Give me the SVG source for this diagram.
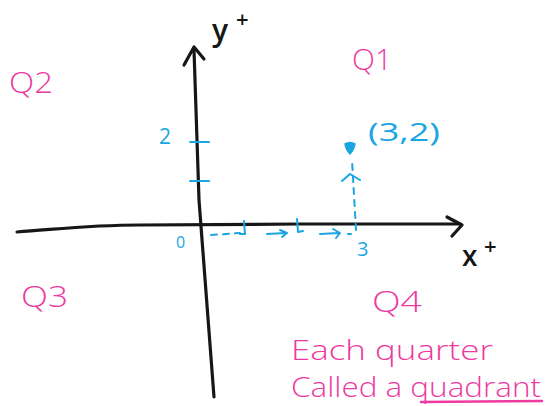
<svg xmlns="http://www.w3.org/2000/svg" width="548" height="406" viewBox="0 0 548 406">
<style>
.ax{fill:none;stroke:#161616;stroke-width:3.2;stroke-linecap:round;stroke-linejoin:round}
.cy{fill:none;stroke:#1aa6e2;stroke-width:2;stroke-linecap:round;stroke-linejoin:round}
.cyd{fill:none;stroke:#1aa6e2;stroke-width:2;stroke-linecap:round;stroke-dasharray:6 6}
.mt{font-family:"Open Sans","Liberation Sans",sans-serif;fill:#ec3a9f;font-weight:300}
.ct{font-family:"Open Sans","Liberation Sans",sans-serif;fill:#1aa6e2;font-weight:400}
.bt{font-family:"Open Sans","Liberation Sans",sans-serif;fill:#161616;font-weight:600}
</style>
<rect width="548" height="406" fill="#ffffff"/>
<g id="connectors">
<path class="ax" d="M17 232 C60 229 90 225 140 225 L300 224 L460 224"/>
<path class="ax" d="M447 217 L462 225 L452 236"/>
<path class="ax" d="M194 50 L199 200 L214 397"/>
<path class="ax" d="M184 65 L194 47 L204 59"/>
</g>
<g id="y-axis-label">
<text class="bt" x="212" y="41" font-size="30">y</text>
<text class="bt" x="236" y="27" font-size="22">+</text>
</g>
<g id="x-axis-label">
<text class="bt" x="462" y="266" font-size="28">x</text>
<text class="bt" x="484" y="254" font-size="22">+</text>
</g>
<g id="ticks">
<path class="cy" d="M190 142 L209 142"/>
<path class="cy" d="M190 181 L209 181"/>
<text class="ct" x="159" y="144" font-size="21">2</text>
<text class="ct" x="176" y="248" font-size="16">0</text>
<text class="ct" x="357" y="256" font-size="20">3</text>
</g>
<g id="path-to-point">
<path class="cyd" d="M211 235 L240 233"/>
<path class="cy" d="M244 221 L245 234 L240 234"/>
<path class="cy" d="M267 234 L286 233 M280 230 L287 233 L282 237"/>
<path class="cy" d="M297 219 L298 232 L303 231"/>
<path class="cy" d="M320 234 L339 233 M333 229 L340 233 L336 238"/>
<path class="cy" d="M348 234 L351 234"/>
<path class="cyd" d="M356 230 L352 160" stroke-dasharray="5 5"/>
<path class="cy" d="M342 181 L350 174 L360 180"/>
</g>
<g id="point">
<path d="M345 144 Q350 141 355 144 Q354 150 350 154 Q346 150 345 144 Z" fill="#1aa6e2" stroke="#1aa6e2" stroke-width="1.5" stroke-linejoin="round"/>
<text class="ct" x="368" y="141" font-size="26" textLength="72" lengthAdjust="spacingAndGlyphs">(3,2)</text>
</g>
<g id="Q1"><text class="mt" x="352" y="70" font-size="30" textLength="40" lengthAdjust="spacingAndGlyphs">Q1</text></g>
<g id="Q2"><text class="mt" x="9" y="93" font-size="30" textLength="44" lengthAdjust="spacingAndGlyphs">Q2</text></g>
<g id="Q3"><text class="mt" x="21" y="307" font-size="30" textLength="47" lengthAdjust="spacingAndGlyphs">Q3</text></g>
<g id="Q4"><text class="mt" x="372" y="312" font-size="30" textLength="50" lengthAdjust="spacingAndGlyphs">Q4</text></g>
<g id="note">
<text class="mt" x="291" y="360" font-size="27" textLength="202" lengthAdjust="spacingAndGlyphs">Each quarter</text>
<text class="mt" x="291" y="397" font-size="27" textLength="250" lengthAdjust="spacingAndGlyphs">Called a quadrant</text>
<path d="M421 402 L542 401" fill="none" stroke="#ec3a9f" stroke-width="2.5" stroke-linecap="round"/>
</g>
</svg>
